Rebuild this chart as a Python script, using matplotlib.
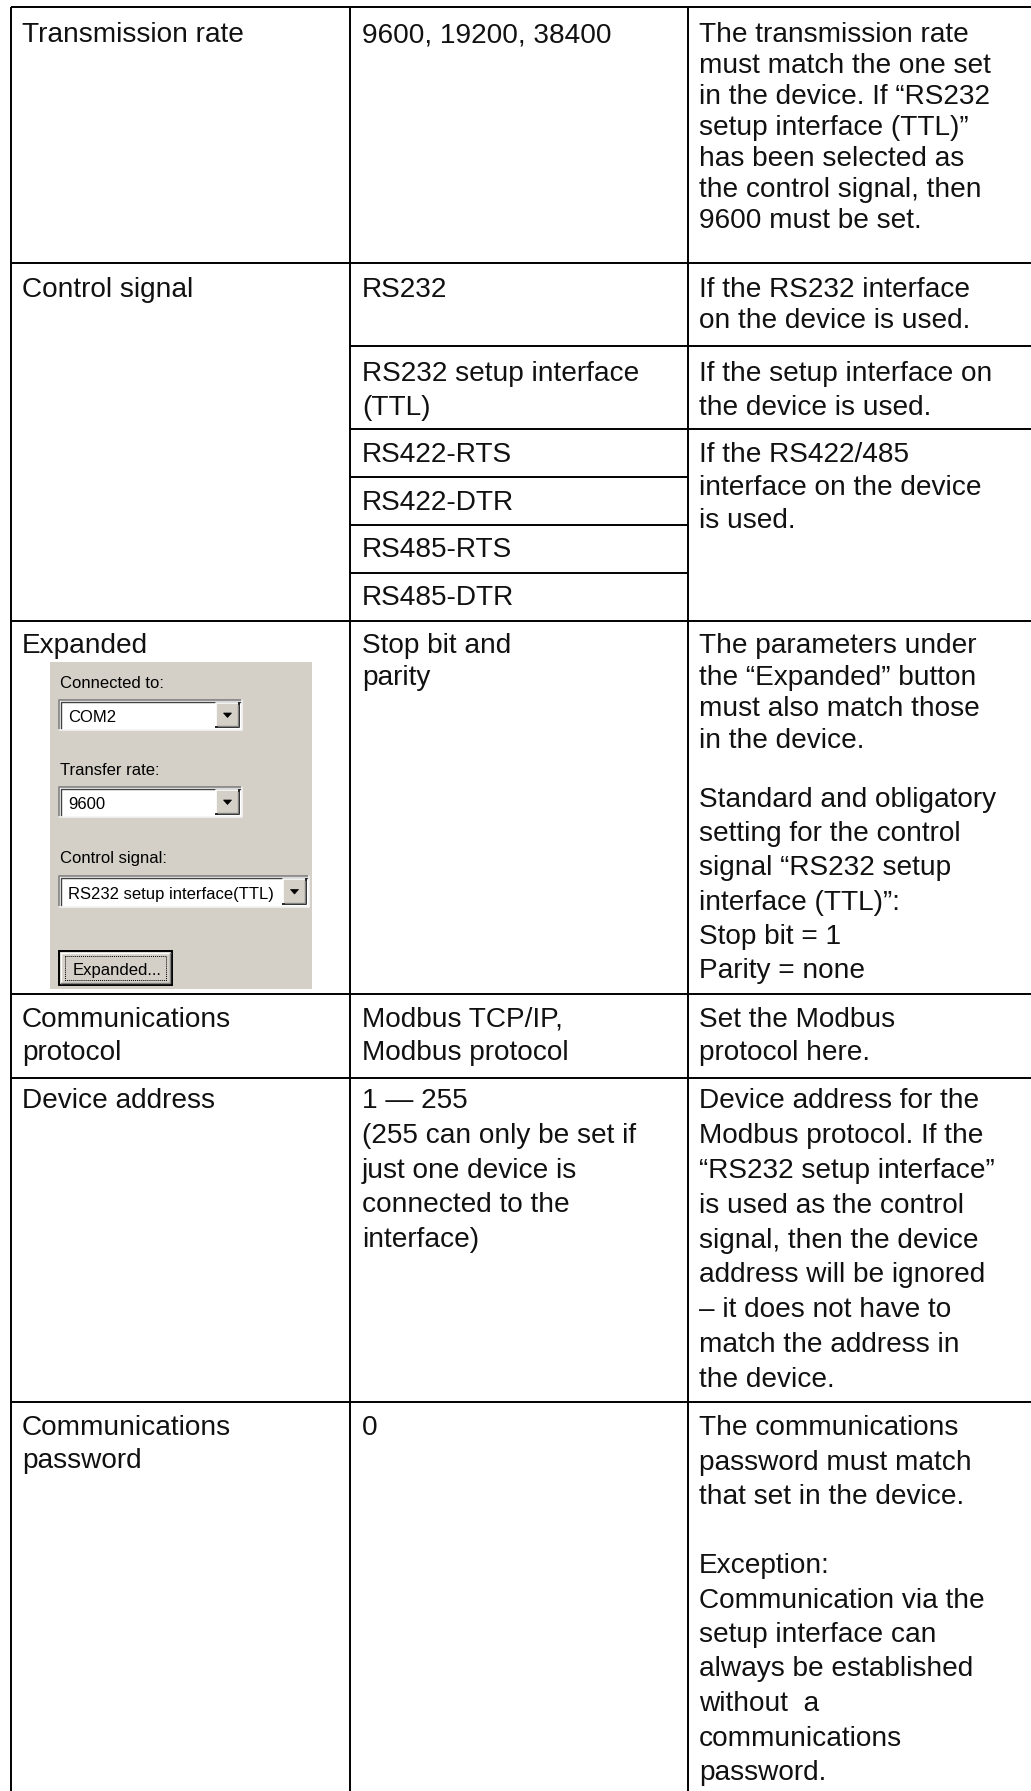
import matplotlib.pyplot as plt
from matplotlib.patches import Rectangle, Polygon

# === table contents ===
param_names = ["Transmission rate", "Control signal", "Expanded",
               "Communications\nprotocol", "Device address",
               "Communications\npassword"]

param_values = ["9600, 19200, 38400", "RS232", "RS232 setup interface\n(TTL)",
                "RS422-RTS", "RS422-DTR", "RS485-RTS", "RS485-DTR",
                "Stop bit and\nparity", "Modbus TCP/IP,\nModbus protocol",
                "1 \u2014 255\n(255 can only be set if\njust one device is\n"
                "connected to the\ninterface)",
                "0"]

notes = ["The transmission rate\nmust match the one set\nin the device. If \u201cRS232\n"
         "setup interface (TTL)\u201d\nhas been selected as\nthe control signal, then\n"
         "9600 must be set.",
         "If the RS232 interface\non the device is used.",
         "If the setup interface on\nthe device is used.",
         "If the RS422/485\ninterface on the device\nis used.",
         "The parameters under\nthe \u201cExpanded\u201d button\nmust also match those\n"
         "in the device.",
         "Standard and obligatory\nsetting for the control\nsignal \u201cRS232 setup\n"
         "interface (TTL)\u201d:\nStop bit = 1\nParity = none",
         "Set the Modbus\nprotocol here.",
         "Device address for the\nModbus protocol. If the\n\u201cRS232 setup interface\u201d\n"
         "is used as the control\nsignal, then the device\naddress will be ignored\n"
         "\u2013 it does not have to\nmatch the address in\nthe device.",
         "The communications\npassword must match\nthat set in the device.\n\n"
         "Exception:\nCommunication via the\nsetup interface can\n"
         "always be established\nwithout  a\ncommunications\npassword."]

# dialog screenshot in the "Expanded" cell
dialog_labels = ["Connected to:", "Transfer rate:", "Control signal:"]
dialog_choices = ["COM2", "9600", "RS232 setup interface(TTL)"]
dialog_button = "Expanded..."

# === layout (pixels) ===
W, H = 1031, 1791
col_x = [22, 362, 699]
x_left, x_div1, x_div2 = 11, 350, 688
full_rules = [7, 263, 621, 994, 1078, 1402]
rules_c23 = [346, 429]
rules_c2 = [477, 525, 573]

name_base = [42, 297, 653, 1027, 1108, 1435]
name_gap = [31, 32, 32, 33, 35, 33]
value_base = [42, 297, 381, 462, 510, 557, 605, 653, 1027, 1108, 1435]
value_gap = [31, 32, 34, 32, 32, 32, 32, 32, 33, 34.8, 33]
note_base = [42, 297, 381, 462, 653, 807, 1027, 1108, 1435]
note_gap = [31, 31, 34, 33, 31.7, 34.2, 33, 34.9, 34.5]

FONT = "Liberation Sans"
FS = 20.2
FS_SMALL = 12

fig = plt.figure(figsize=(W / 100, H / 100), dpi=100, facecolor="white")
ax = fig.add_axes([0, 0, 1, 1])
ax.set_xlim(0, W)
ax.set_ylim(H, 0)
ax.axis("off")

lw = 1.4
ax.hlines(full_rules, x_left, W, color="black", lw=lw)
ax.hlines(rules_c23, x_div1, W, color="black", lw=lw)
ax.hlines(rules_c2, x_div1, x_div2, color="black", lw=lw)
ax.vlines([x_left, x_div1, x_div2], full_rules[0], H, color="black", lw=lw)


def put(x, base, gap, text):
    for i, line in enumerate(text.split("\n")):
        if line:
            ax.text(x, base + i * gap, line, fontsize=FS, family=FONT,
                    ha="left", va="baseline", color="#111111")


for txt, b, g in zip(param_names, name_base, name_gap):
    put(col_x[0], b, g, txt)
for txt, b, g in zip(param_values, value_base, value_gap):
    put(col_x[1], b, g, txt)
for txt, b, g in zip(notes, note_base, note_gap):
    put(col_x[2], b, g, txt)

# === dialog screenshot ===
gray = "#d4d0c8"
ax.add_patch(Rectangle((50, 662), 262, 327, facecolor=gray, edgecolor="none"))


def sunken_box(x0, y0, x1, y1):
    ax.add_patch(Rectangle((x0, y0), x1 - x0, y1 - y0, facecolor="white", edgecolor="none"))
    ax.plot([x0, x0, x1], [y1, y0, y0], color="#808080", lw=1.2)
    ax.plot([x0 + 1.5, x0 + 1.5, x1 - 1.5], [y1 - 1.5, y0 + 1.5, y0 + 1.5], color="#404040", lw=1.0)
    ax.plot([x0, x1, x1], [y1, y1, y0], color="#f4f4f4", lw=1.2)


def raised_box(x0, y0, x1, y1):
    ax.add_patch(Rectangle((x0, y0), x1 - x0, y1 - y0, facecolor=gray, edgecolor="none"))
    ax.plot([x0, x0, x1], [y1, y0, y0], color="white", lw=1.2)
    ax.plot([x0, x1, x1], [y1, y1, y0], color="#202020", lw=1.4)
    ax.plot([x0 + 1.5, x1 - 1.5, x1 - 1.5], [y1 - 1.5, y1 - 1.5, y0 + 1.5], color="#808080", lw=1.0)


label_base = [688, 775, 863]
box_y = [(700, 730), (787, 817), (876, 907)]
box_right = [242, 242, 309]
for lab, choice, lb, (y0, y1), xr in zip(dialog_labels, dialog_choices, label_base, box_y, box_right):
    ax.text(60, lb, lab, fontsize=FS_SMALL, family=FONT, ha="left", va="baseline", color="#000000")
    sunken_box(59, y0, xr, y1)
    ax.text(68, y1 - 8, choice, fontsize=FS_SMALL, family=FONT, ha="left", va="baseline", color="#000000")
    raised_box(xr - 26, y0 + 3, xr - 3, y1 - 3)
    cx, cy = xr - 14.5, (y0 + y1) / 2
    ax.add_patch(Polygon([(cx - 4, cy - 2), (cx + 4, cy - 2), (cx, cy + 2.5)], closed=True,
                         facecolor="black", edgecolor="black", lw=0.5))

# Expanded... button
ax.add_patch(Rectangle((59, 951), 113, 34, facecolor=gray, edgecolor="#000000", lw=1.4))
ax.plot([61, 61, 170], [983, 953, 953], color="white", lw=1.0)
ax.plot([61, 170, 170], [983, 983, 953], color="#808080", lw=1.0)
ax.add_patch(Rectangle((65, 956), 101, 24, facecolor="none", edgecolor="#000000",
                       lw=0.7, linestyle=(0, (1, 1))))
ax.text(73, 975, dialog_button, fontsize=FS_SMALL, family=FONT, ha="left", va="baseline", color="#000000")

plt.savefig("out.png", dpi=100, facecolor="white")
